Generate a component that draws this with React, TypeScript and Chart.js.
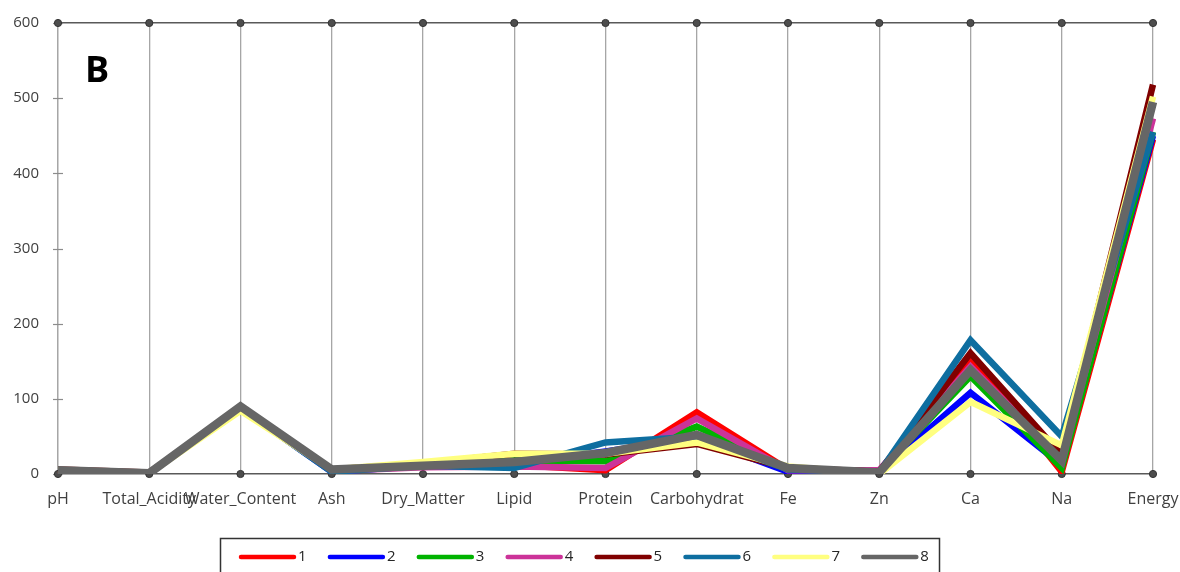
import React, { useEffect, useRef } from "react";
import { Chart, registerables } from "chart.js";

Chart.register(...registerables);

const categories = [
  "pH", "Total_Acidity", "Water_Content", "Ash", "Dry_Matter", "Lipid",
  "Protein", "Carbohydrat", "Fe", "Zn", "Ca", "Na", "Energy",
];

const seriesNames = ["1", "2", "3", "4", "5", "6", "7", "8"];

const s1 = [5, 1, 88, 5, 12, 12, 5, 82, 6, 3, 155, 3, 445];
const s2 = [4, 1, 88, 3, 11, 14, 30, 48, 3, 2, 108, 12, 450];
const s3 = [5, 1, 88, 5, 12, 18, 17, 63, 7, 3, 130, 8, 455];
const s4 = [5, 1, 88, 4, 9, 10, 8, 74, 5, 5, 143, 20, 473];
const s5 = [6, 2, 87, 6, 14, 27, 26, 40, 8, 3, 161, 25, 518];
const s6 = [3, 1, 88, 3, 11, 8, 42, 50, 6, 2, 178, 50, 455];
const s7 = [5, 1, 84, 6, 16, 27, 27, 42, 10, 0, 96, 38, 502];
const s8 = [5, 1, 90, 6, 11, 16, 28, 52, 8, 2, 138, 18, 495];

const seriesValues = [s1, s2, s3, s4, s5, s6, s7, s8];
const seriesColors = [
  "#ff0000", "#0000ff", "#00b300", "#cc3399",
  "#800000", "#0e6ea0", "#ffff80", "#666666",
];

const yTicks = [0, 100, 200, 300, 400, 500, 600];
const panelLabel = "B";

const FONT = "'Open Sans', 'Liberation Sans', sans-serif";

const decorPlugin = {
  id: "decor",
  beforeDatasetsDraw(chart: any) {
    const { ctx, chartArea, scales } = chart;
    const x = scales.x;
    const y = scales.y;
    ctx.save();
    ctx.strokeStyle = "#8c8c8c";
    ctx.lineWidth = 1.2;
    yTicks.forEach((v) => {
      const py = Math.round(y.getPixelForValue(v)) + 0.5;
      ctx.beginPath();
      ctx.moveTo(chartArea.left - 5, py);
      ctx.lineTo(chartArea.left + 5, py);
      ctx.stroke();
    });
    const top = y.getPixelForValue(600);
    const bot = y.getPixelForValue(0);
    ctx.fillStyle = "#4d4d4d";
    ctx.strokeStyle = "#333333";
    ctx.lineWidth = 1;
    categories.forEach((_, i) => {
      const px = x.getPixelForValue(i);
      [top, bot].forEach((py) => {
        ctx.beginPath();
        ctx.arc(px, py, 3.6, 0, Math.PI * 2);
        ctx.fill();
        ctx.stroke();
      });
    });
    ctx.restore();
  },
  afterDraw(chart: any) {
    const { ctx } = chart;
    ctx.save();
    ctx.fillStyle = "#000000";
    ctx.font = `bold 36px ${FONT}`;
    ctx.textBaseline = "alphabetic";
    ctx.textAlign = "left";
    ctx.fillText(panelLabel, 85, 82);
    ctx.strokeStyle = "#333333";
    ctx.lineWidth = 1.5;
    ctx.strokeRect(220.5, 538.5, 719, 60);
    const legendY = 557;
    const startX = 239;
    const step = 88.9;
    ctx.font = `15px ${FONT}`;
    ctx.textBaseline = "middle";
    chart.data.datasets.forEach((ds: any, i: number) => {
      const lx = startX + i * step;
      ctx.strokeStyle = ds.borderColor;
      ctx.lineWidth = 4.5;
      ctx.lineCap = "round";
      ctx.beginPath();
      ctx.moveTo(lx + 2, legendY);
      ctx.lineTo(lx + 55, legendY);
      ctx.stroke();
      ctx.fillStyle = "#262626";
      ctx.fillText(ds.label, lx + 59, legendY);
    });
    ctx.restore();
  },
};

export default function App() {
  const canvasRef = useRef<HTMLCanvasElement | null>(null);

  useEffect(() => {
    if (!canvasRef.current) return;
    const datasets = seriesValues.map((vals, i) => ({
      label: seriesNames[i],
      data: vals,
      borderColor: seriesColors[i],
      backgroundColor: seriesColors[i],
      borderWidth: i === 7 ? 8.5 : 6.5,
      pointRadius: 0,
      tension: 0,
      fill: false,
      borderJoinStyle: "miter" as const,
      order: seriesValues.length - i,
    }));
    const chart = new Chart(canvasRef.current, {
      type: "line",
      data: { labels: categories, datasets },
      options: {
        responsive: false,
        animation: false,
        devicePixelRatio: 1,
        layout: { padding: { top: 23, right: 27, left: 0, bottom: 0 } },
        plugins: {
          legend: { display: false },
          tooltip: { enabled: false },
        },
        scales: {
          x: {
            type: "category",
            offset: false,
            grid: {
              color: "#a6a6a6",
              lineWidth: 1.3,
              drawTicks: false,
            },
            border: { display: true, color: "#595959", width: 1.5 },
            ticks: {
              autoSkip: false,
              maxRotation: 0,
              minRotation: 0,
              padding: 16,
              color: "#404040",
              font: { family: FONT, size: 16 },
            },
            afterFit(scale: any) {
              scale.height = 98;
              scale.paddingLeft = 0;
              scale.paddingRight = 0;
              scale.paddingTop = 0;
              scale.paddingBottom = 0;
            },
          },
          y: {
            min: 0,
            max: 600,
            ticks: {
              stepSize: 100,
              padding: 19,
              color: "#404040",
              font: { family: FONT, size: 15 },
            },
            grid: {
              drawTicks: false,
              lineWidth: 1.5,
              color: (c: any) =>
                c.tick && c.tick.value === 600 ? "#595959" : "rgba(0,0,0,0)",
            },
            border: { display: true, color: "#a6a6a6", width: 1.3 },
            afterFit(scale: any) {
              scale.width = 58;
              scale.paddingLeft = 0;
              scale.paddingRight = 0;
              scale.paddingTop = 0;
              scale.paddingBottom = 0;
            },
          },
        },
      },
      plugins: [decorPlugin],
    });
    return () => chart.destroy();
  }, []);

  return (
    <div style={{ position: "absolute", left: 0, top: 0, width: 1180, height: 572, background: "#ffffff" }}>
      <canvas ref={canvasRef} width={1180} height={572} />
    </div>
  );
}
